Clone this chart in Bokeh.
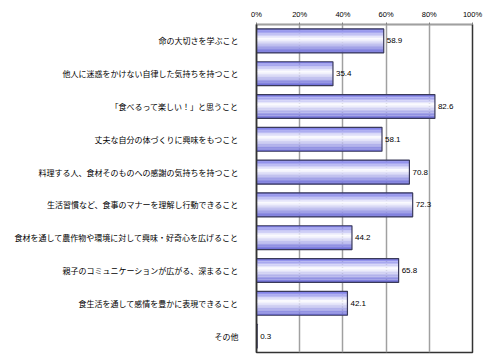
from bokeh.plotting import figure
from bokeh.models import ColumnDataSource, FactorRange, PrintfTickFormatter, FixedTicker
from bokeh.transform import dodge
from bokeh.core.properties import value
from bokeh.embed import file_html
from bokeh.resources import INLINE

categories = [
    "命の大切さを学ぶこと",
    "他人に迷惑をかけない自律した気持ちを持つこと",
    "「食べるって楽しい！」と思うこと",
    "丈夫な自分の体づくりに興味をもつこと",
    "料理する人、食材そのものへの感謝の気持ちを持つこと",
    "生活習慣など、食事のマナーを理解し行動できること",
    "食材を通して農作物や環境に対して興味・好奇心を広げること",
    "親子のコミュニケーションが広がる、深まること",
    "食生活を通して感情を豊かに表現できること",
    "その他",
]
values = [58.9, 35.4, 82.6, 58.1, 70.8, 72.3, 44.2, 65.8, 42.1, 0.3]
x_ticks = [0, 20, 40, 60, 80, 100]

src = ColumnDataSource(dict(cat=categories, val=values,
                            lab=[f"{v:.1f}" for v in values]))

p = figure(width=492, height=356, output_backend="svg", toolbar_location=None,
           y_range=FactorRange(factors=list(reversed(categories)), range_padding=0),
           x_range=(0, 100), x_axis_location="above",
           min_border_left=256, min_border_right=20, min_border_top=24, min_border_bottom=4)
p.background_fill_color = "white"
p.border_fill_color = "white"
p.outline_line_color = "#333333"
p.outline_line_width = 1.5

p.xgrid.grid_line_color = "#a0a0a0"
p.xgrid.grid_line_width = 1.5
p.xgrid.ticker = FixedTicker(ticks=x_ticks)
p.ygrid.grid_line_color = None

xa = p.xaxis[0]
xa.ticker = FixedTicker(ticks=x_ticks)
xa.formatter = PrintfTickFormatter(format="%d%%")
xa.axis_line_color = "#a0a0a0"
xa.major_tick_line_color = "#808080"
xa.major_tick_out = 2
xa.major_tick_in = 0
xa.minor_tick_line_color = None
xa.major_label_standoff = 4
xa.major_label_text_font = "Liberation Sans"
xa.major_label_text_font_size = "7.5px"
xa.major_label_text_color = "#000000"

ya = p.yaxis[0]
ya.axis_line_color = "#333333"
ya.axis_line_width = 1.5
ya.major_tick_line_color = None
ya.minor_tick_line_color = None
ya.major_label_standoff = 12
ya.major_label_text_font = "Noto Sans CJK JP"
ya.major_label_text_font_size = "8px"
ya.major_label_text_color = "#000000"

# gradient-like fill built from thin horizontal bands
bar_h = 0.73
n = 16
top_c = (0x74, 0x74, 0xe6)
bot_c = (0x6a, 0x6a, 0xd8)
mid = 0.42
band = bar_h / n
for i in range(n):
    t = (i + 0.5) / n  # 0 = top, 1 = bottom
    if t < mid:
        f = t / mid
        c0 = top_c
    else:
        f = (1 - t) / (1 - mid)
        c0 = bot_c
    f = max(0.0, min(1.0, f))
    col = tuple(int(round(c0[k] + (255 - c0[k]) * f)) for k in range(3))
    off = bar_h / 2 - (i + 0.5) * band
    p.hbar(y=dodge("cat", off, range=p.y_range), right="val", left=0,
           height=band * 1.08, source=src,
           fill_color="#%02x%02x%02x" % col, line_color=None)

p.hbar(y="cat", right="val", left=0, height=bar_h, source=src,
       fill_color=None, line_color="#3a3a5a", line_width=1.2)

p.text(x="val", y="cat", text="lab", source=src, x_offset=3,
       text_baseline="middle", text_align="left",
       text_font=value("Liberation Sans"), text_font_size="8px",
       text_color="#000000")

open("out.html", "w").write(file_html(p, INLINE))
